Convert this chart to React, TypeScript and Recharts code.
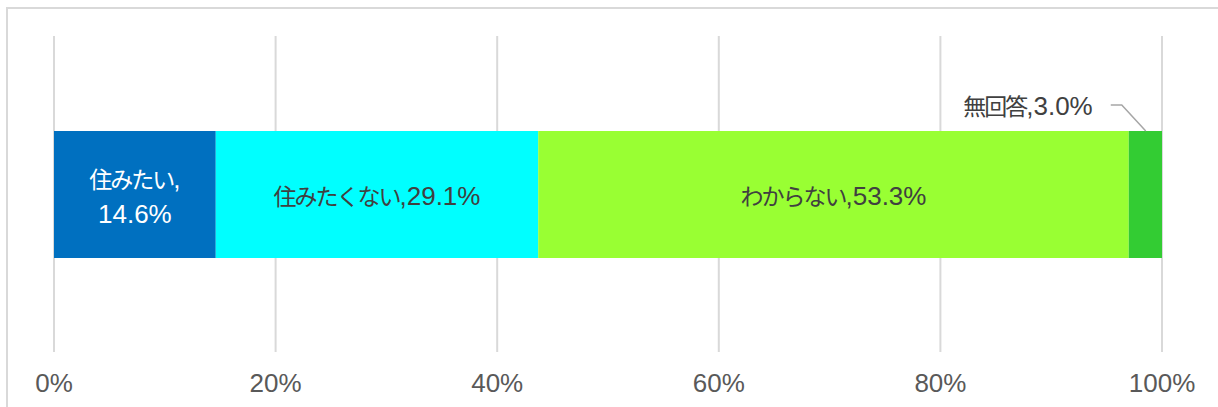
import React from "react";
import { BarChart, Bar, XAxis, YAxis, CartesianGrid } from "recharts";

const categories = ["住みたい", "住みたくない", "わからない", "無回答"];
const values = [14.6, 29.1, 53.3, 3.0];
const colors = ["#0070C0", "#00FFFF", "#99FF33", "#33CC33"];
const labelColors = ["#FFFFFF", "#404040", "#404040", "#404040"];
const ticks = [0, 20, 40, 60, 80, 100];
const tickLabels = ["0%", "20%", "40%", "60%", "80%", "100%"];

const keys = categories.map((_, i) => `s${i}`);
const row: Record<string, any> = { name: "全体" };
keys.forEach((k, i) => (row[k] = values[i]));
const data = [row];

const CJK = "'Noto Sans CJK JP', sans-serif";
const LAT = "'Liberation Sans', Arial, sans-serif";

const Mixed = ({ x, y, cjk, lat, fill, anchor = "middle" }: any) => (
  <text x={x} y={y} textAnchor={anchor} fill={fill}>
    {cjk ? (
      <tspan fontFamily={CJK} fontSize={23} letterSpacing={-2}>
        {cjk}
      </tspan>
    ) : null}
    {lat ? (
      <tspan fontFamily={LAT} fontSize={26}>
        {lat}
      </tspan>
    ) : null}
  </text>
);

const makeLabel = (i: number) => (props: any) => {
  const { x, y, width, height } = props;
  const cx = x + width / 2;
  const cy = y + height / 2;
  const v = values[i].toFixed(1) + "%";
  const fill = labelColors[i];
  if (i === 0) {
    return (
      <g>
        <Mixed x={cx} y={cy - 6.5} cjk={categories[i]} lat="," fill={fill} />
        <Mixed x={cx} y={cy + 28.5} lat={v} fill={fill} />
      </g>
    );
  }
  if (i === categories.length - 1) {
    return (
      <g>
        <path
          d={`M${x - 18},${y - 26} H${x - 7} L${x + 17},${y}`}
          stroke="#a6a6a6"
          strokeWidth={1.5}
          fill="none"
        />
        <Mixed x={x - 36} y={y - 16} cjk={categories[i]} lat={"," + v} fill={fill} anchor="end" />
      </g>
    );
  }
  return <Mixed x={cx} y={cy + 10.5} cjk={categories[i]} lat={"," + v} fill={fill} />;
};

const Tick = (props: any) => {
  const { x, y, index } = props;
  return (
    <text x={x} y={y + 40} textAnchor="middle" fill="#595959" fontFamily={LAT} fontSize={26}>
      {tickLabels[index]}
    </text>
  );
};

export default function App() {
  return (
    <div style={{ position: "absolute", left: 0, top: 0, width: 1218, height: 407, overflow: "hidden", background: "#fff" }}>
      <div
        style={{
          position: "absolute",
          left: 6,
          top: 7,
          width: 1240,
          height: 430,
          border: "2px solid #d9d9d9",
        }}
      />
      <div style={{ position: "absolute", left: 0, top: 0 }}>
        <BarChart
          width={1218}
          height={407}
          data={data}
          layout="vertical"
          margin={{ top: 36, right: 56, left: 54, bottom: 15 }}
        >
          <CartesianGrid horizontal={false} stroke="#d9d9d9" strokeWidth={2} />
          <XAxis
            type="number"
            domain={[0, 100]}
            ticks={ticks}
            axisLine={false}
            tickLine={false}
            tickSize={0}
            tickMargin={0}
            height={40}
            interval={0}
            tick={<Tick />}
          />
          <YAxis type="category" dataKey="name" hide />
          {keys.map((k, i) => (
            <Bar
              key={k}
              dataKey={k}
              stackId="a"
              fill={colors[i]}
              barSize={127}
              isAnimationActive={false}
              label={makeLabel(i)}
            />
          ))}
        </BarChart>
      </div>
    </div>
  );
}
